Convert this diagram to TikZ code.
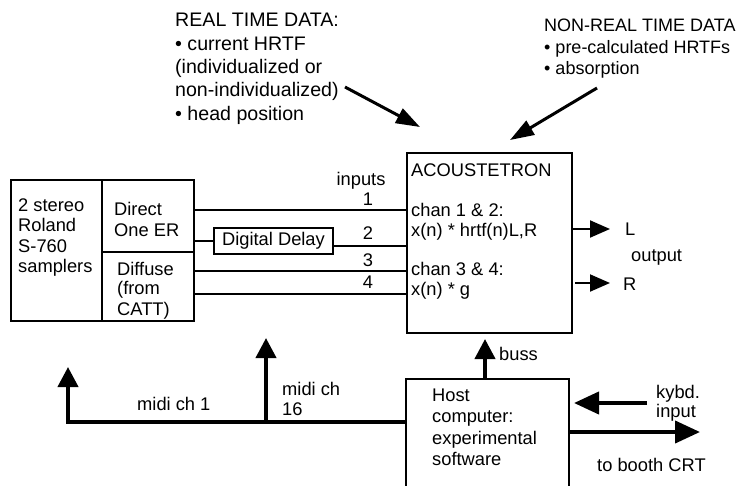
\documentclass[tikz,border=0pt]{standalone}
\usepackage{fontspec}
\setmainfont{Liberation Sans}
\usetikzlibrary{arrows.meta}
\begin{document}
\begin{tikzpicture}[x=1pt,y=-1pt,
  lbl/.style={inner sep=0pt, anchor=base west, font=\fontsize{18.3}{21}\selectfont},
  lblc/.style={inner sep=0pt, anchor=base, font=\fontsize{18.3}{21}\selectfont},
  toplbl/.style={inner sep=0pt, anchor=base west, font=\fontsize{19.6}{23}\selectfont},
  toprlbl/.style={inner sep=0pt, anchor=base west, font=\fontsize{18}{21}\selectfont},
  box/.style={draw, line width=2pt, inner sep=0pt, anchor=north west},
  wire/.style={line width=2pt},
  bus/.style={line width=4pt},
  diag/.style={line width=3pt, -{Triangle[length=24pt,width=16pt]}},
  bustip/.style={-{Triangle[length=20pt,width=20pt]}},
  sidetip/.style={-{Triangle[length=25pt,width=22pt]}},
  outtip/.style={-{Triangle[length=20pt,width=17pt]}}
]
\useasboundingbox (0,0) rectangle (749,485);

% ---------- boxes ----------
\node[box, minimum width=91pt, minimum height=141pt] (samp) at (10,179) {};
\node[box, minimum width=92pt, minimum height=72pt] (dcell) at (101,179) {};
\node[box, minimum width=92pt, minimum height=69pt] (fcell) at (101,251) {};
\node[box, minimum width=119pt, minimum height=26pt, font=\fontsize{18.3}{21}\selectfont] (delay) at (213,227) {Digital Delay};
\node[box, minimum width=165pt, minimum height=180pt] (ac) at (406,152) {};
\node[box, minimum width=163pt, minimum height=115pt] (host) at (405,378) {};

% ---------- sampler texts ----------
\node[lbl] (s1) at (18,211) {2 stereo};
\node[lbl] (s2) at (18,231.5) {Roland};
\node[lbl] (s3) at (18,252) {S-760};
\node[lbl] (s4) at (18,272.5) {samplers};
\node[lbl] (d1) at (114,215.7) {Direct};
\node[lbl] (d2) at (114,236.7) {One ER};
\node[lbl] (f1) at (117,275) {Diffuse};
\node[lbl] (f2) at (117,294.5) {(from};
\node[lbl] (f3) at (117,315) {CATT)};

% ---------- acoustetron texts ----------
\node[lbl] (a1) at (411,176.7) {ACOUSTETRON};
\node[lbl] (a2) at (411,216.5) {chan 1 \& 2:};
\node[lbl] (a3) at (411,236.7) {x(n) * hrtf(n)L,R};
\node[lbl] (a4) at (411,275.5) {chan 3 \& 4:};
\node[lbl] (a5) at (411,295) {x(n) * g};

% ---------- input labels ----------
\node[lblc] (inp) at (361,185) {inputs};
\node[lblc] (i1) at (368,205) {1};
\node[lblc] (i2) at (368,239) {2};
\node[lblc] (i3) at (368,266.5) {3};
\node[lblc] (i4) at (368,288.5) {4};

% ---------- input wires ----------
\coordinate (y1) at (0,210);
\coordinate (y2a) at (0,241);
\coordinate (y2b) at (0,246);
\coordinate (y3) at (0,271);
\coordinate (y4) at (0,293.5);
\draw[wire] (dcell.east |- y1) -- (ac.west |- y1);
\draw[wire] (dcell.east |- y2a) -- (delay.west |- y2a);
\draw[wire] (delay.east |- y2b) -- (ac.west |- y2b);
\draw[wire] (fcell.east |- y3) -- (ac.west |- y3);
\draw[wire] (fcell.east |- y4) -- (ac.west |- y4);

% ---------- outputs ----------
\node[lbl] (L) at (625,235.5) {L};
\node[lbl] (outp) at (631,261.5) {output};
\node[lbl] (R) at (623,290) {R};
\coordinate (Ltip) at (610,229);
\coordinate (Rtip) at (610,283);
\draw[wire, outtip] (ac.east |- Ltip) -- (Ltip);
\draw[wire, outtip] (ac.east |- Rtip) ++(2,0) -- (Rtip);

% ---------- host texts ----------
\node[lbl] (h1) at (432,401) {Host};
\node[lbl] (h2) at (432,422.5) {computer:};
\node[lbl] (h3) at (432,444) {experimental};
\node[lbl] (h4) at (432,465.5) {software};

% ---------- buss ----------
\coordinate (bx) at (485,0);
\node[lbl] (buss) at (499,360) {buss};
\draw[bus, bustip, shorten >=5pt] (host.north -| bx) -- (ac.south -| bx);

% ---------- midi ----------
\coordinate (ym) at (0,422);
\coordinate (m1) at (68,422);
\coordinate (t1) at (68,367);
\coordinate (m16) at (266,422);
\coordinate (t16) at (266,338);
\draw[bus, bustip, line join=miter] (host.west |- ym) -- (m1) -- (t1);
\draw[bus, bustip] (m16) -- (t16);
\node[lbl] (mc1) at (137,410) {midi ch 1};
\node[lbl] (mc16a) at (282,395) {midi ch};
\node[lbl] (mc16b) at (282,415) {16};

% ---------- keyboard / CRT ----------
\coordinate (kyb) at (647,403);
\coordinate (crt) at (700,432);
\draw[bus, sidetip, shorten >=4pt] (kyb) -- (host.east |- kyb);
\draw[bus, sidetip] (host.east |- crt) -- (crt);
\node[lbl] (k1) at (656,398) {kybd.};
\node[lbl] (k2) at (656,417.5) {input};
\node[lbl] (crtl) at (597,471.7) {to booth CRT};

% ---------- top texts ----------
\node[toplbl] (r1) at (175,26.7) {REAL TIME DATA:};
\node[toplbl] (r2) at (175,50) {• current HRTF};
\node[toplbl] (r3) at (175,73.3) {(individualized or};
\node[toplbl] (r4) at (175,96.7) {non-individualized)};
\node[toplbl] (r5) at (175,120) {• head position};
\node[toprlbl] (n1) at (544,31) {NON-REAL TIME DATA};
\node[toprlbl] (n2) at (544,53.3) {• pre-calculated HRTFs};
\node[toprlbl] (n3) at (544,74.5) {• absorption};
\coordinate (rtail) at (345,87);
\coordinate (rtip) at (420,127);
\coordinate (ntail) at (597,88);
\coordinate (ntip) at (510,140);
\draw[diag] (rtail) -- (rtip);
\draw[diag] (ntail) -- (ntip);
\end{tikzpicture}
\end{document}
